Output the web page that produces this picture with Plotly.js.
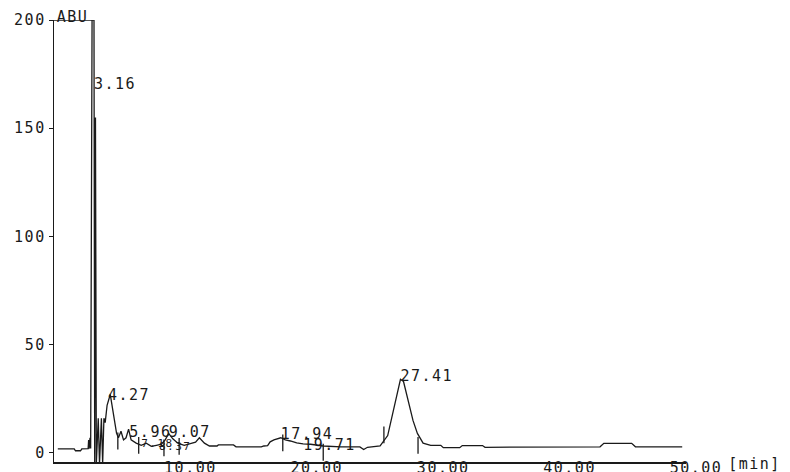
<!DOCTYPE html>
<html>
<head>
<meta charset="utf-8">
<script src="https://cdn.plot.ly/plotly-3.0.1.min.js"></script>
<style>
html,body{margin:0;padding:0;background:#fff;}
#chart{width:790px;height:472px;}
#chart text{letter-spacing:1.5px;}
</style>
</head>
<body>
<div id="chart"></div>
<script>
// Chromatogram trace: retention time (min) and abundance (ABU)
const times = [0.3,1.6,1.7,2.1,2.2,2.7,2.74,2.78,2.85,2.9,3.02,3.16,3.22,3.28,3.35,3.5,3.6,3.75,3.85,3.95,4.05,4.2,4.45,4.7,4.95,5.1,5.3,5.5,5.7,5.9,6.1,6.5,6.9,7.3,7.7,8.1,8.5,8.8,9.07,9.4,9.8,10.3,10.8,11.2,11.5,11.9,12.3,12.9,13.0,14.2,14.4,16.4,16.6,16.9,17.1,17.4,17.94,18.3,18.7,19.2,19.71,20.3,21.3,22.7,24.2,24.5,24.8,25.8,26.4,26.8,27.2,27.41,27.65,28.0,28.4,28.75,29.2,29.8,30.6,30.8,32.1,32.3,33.9,34.1,43.2,43.5,45.7,46.0,49.7];
const abundance = [1.9,1.9,1.0,1.0,1.9,2.0,6.0,2.0,7.0,2.0,215,215,-5,155,-5,16,-5,16,-5,16,14,22,27,17,9,7,10,6,7,11,6,4.5,3.5,4.5,3.0,3.5,4.0,6.0,9.0,6.5,4.5,3.5,4.5,5.0,7.0,4.5,3.2,3.2,3.7,3.7,2.8,2.8,3.2,3.4,5.1,6.0,7.0,6.0,5.5,4.6,4.2,4.0,3.2,2.8,2.8,1.6,2.6,3.2,8,18,29,34,33,24,15,9,4.5,3.5,3.5,2.4,2.4,3.4,3.4,2.6,2.8,4.4,4.4,2.8,2.8];

// Peak retention-time labels
const peakLabels = ["3.16","4.27","5.96","9.07","17.94","19.71","27.41"];
const peakTimes = [3.16,4.27,5.96,9.07,17.94,19.71,27.41];
const peakLabelLevels = [170,26,9,9,8,3,35];

// Overlapping minor labels
const minorLabels = ["7.18","8.37"];
const minorTimes = [6.9,8.3];
const minorLevels = [4.0,2.5];

// Integrator baseline marks
const markTimes = [5.05,6.7,8.7,9.9,18.1,21.3,26.1,28.8];
const markLevels = [5.5,3.5,2.3,3.0,4.6,0.3,8.3,3.5];

// Off-scale segment of the first peak
const offscaleTimes = [0, 3.16];
const offscaleLevels = [200, 200];

// Axes
const xTickVals = [10,20,30,40,50];
const xTickText = ["10.00","20.00","30.00","40.00","50.00"];
const yTickVals = [0,50,100,150,200];
const yTickText = ["0","50","100","150","200"];

const FONT = "DejaVu Sans Mono, monospace";
const INK = "#1a1a1a";

const traces = [
  {x: times, y: abundance, type: "scatter", mode: "lines",
   line: {color: INK, width: 1.3}, hoverinfo: "skip"},
  {x: offscaleTimes, y: offscaleLevels, type: "scatter", mode: "lines",
   line: {color: INK, width: 1.3}, cliponaxis: false, hoverinfo: "skip"},
  {x: markTimes, y: markLevels, type: "scatter", mode: "markers",
   marker: {symbol: "line-ns", size: 12, color: INK, line: {color: INK, width: 1.3}},
   hoverinfo: "skip"},
  {x: peakTimes, y: peakLabelLevels, type: "scatter", mode: "text",
   text: peakLabels, textposition: "middle right", cliponaxis: false,
   textfont: {family: FONT, size: 15, color: INK}, hoverinfo: "skip"},
  {x: minorTimes, y: minorLevels, type: "scatter", mode: "text",
   text: minorLabels, textposition: "middle right", cliponaxis: false,
   textfont: {family: FONT, size: 11, color: INK}, hoverinfo: "skip"}
];

const layout = {
  width: 790, height: 472,
  margin: {l: 54, r: 104, t: 20, b: 10},
  paper_bgcolor: "#fff", plot_bgcolor: "#fff",
  showlegend: false,
  font: {family: FONT, size: 15, color: INK},
  xaxis: {
    range: [0, 50], showgrid: false, zeroline: false,
    showline: true, linecolor: INK, linewidth: 1.5,
    tickmode: "array", tickvals: xTickVals, ticktext: xTickText,
    ticks: "", ticklabelshift: 10, ticklabelstandoff: -9,
    tickfont: {family: FONT, size: 15, color: INK}
  },
  yaxis: {
    range: [-4.2, 200], showgrid: false, zeroline: false,
    showline: true, linecolor: INK, linewidth: 1.3,
    tickmode: "array", tickvals: yTickVals, ticktext: yTickText,
    ticks: "outside", ticklen: 4, tickwidth: 1, tickcolor: INK,
    ticklabelstandoff: 0,
    tickfont: {family: FONT, size: 15, color: INK}
  },
  annotations: [
    {text: "ABU", xref: "x", yref: "y", x: 0.2, y: 200, xanchor: "left", yanchor: "middle",
     yshift: 3, showarrow: false, font: {family: FONT, size: 15, color: INK}},
    {text: "[min]", xref: "paper", yref: "paper", x: 1.07, y: 0, xanchor: "left", yanchor: "top",
     yshift: 9, showarrow: false, font: {family: FONT, size: 15, color: INK}}
  ]
};

Plotly.newPlot("chart", traces, layout, {displayModeBar: false, staticPlot: true});
</script>
</body>
</html>
